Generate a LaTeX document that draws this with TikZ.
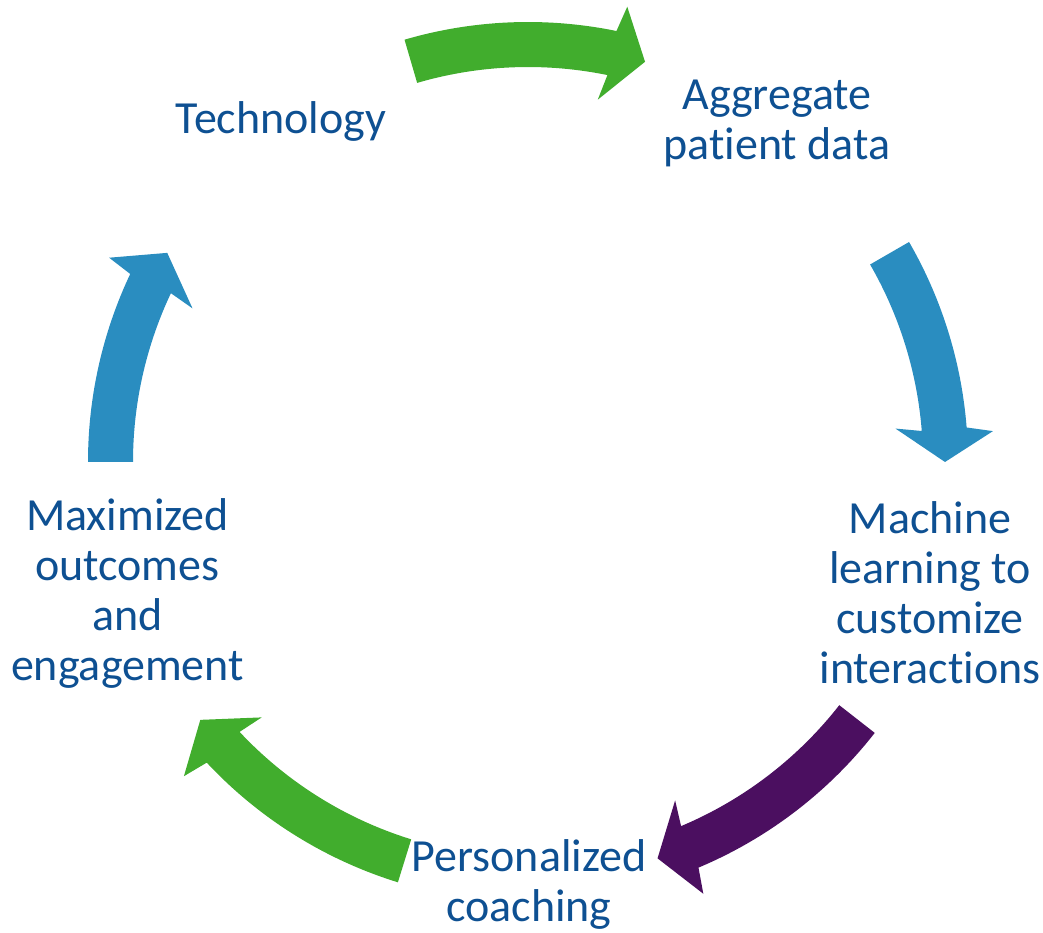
\documentclass[tikz,border=0pt]{standalone}
\usepackage{fontspec}
\setmainfont{Carlito}[Ligatures=NoCommon]
\definecolor{txtblue}{RGB}{14,80,146}
\definecolor{arrgreen}{RGB}{65,173,45}
\definecolor{arrblue}{RGB}{42,141,192}
\definecolor{arrpurple}{RGB}{75,15,96}
\newcommand{\blockarc}[4]{%
  \fill[#1] (#2:440) arc[start angle=#2, end angle=#3, radius=440]
    -- ({#3-0.7}:466) -- (#4:417) -- ({#3+0.7}:369)
    -- (#3:395) arc[start angle=#3, end angle=#2, radius=395] -- cycle;}
\begin{document}
\begin{tikzpicture}[x=1pt,y=1pt,
  lbl/.style={text=txtblue, align=center, inner sep=0pt,
    font=\fontsize{46}{50}\selectfont}]
\useasboundingbox (0,0) rectangle (1043,932);
\begin{scope}[shift={(528,470)}]
  \blockarc{arrgreen}{106.3}{78.4}{73.7}
  \blockarc{arrblue}{30}{4.5}{0}
  \blockarc{arrpurple}{-38}{-67.2}{-71.9}
  \blockarc{arrgreen}{-107.2}{-136.9}{-141.8}
  \blockarc{arrblue}{180}{154.7}{149.9}
\end{scope}
\node[lbl] (tech) at (281,811) {Technology};
\node[lbl] (agg) at (777,809) {Aggregate\\patient data};
\node[lbl] (ml) at (930,339) {Machine\\learning to\\customize\\interactions};
\node[lbl] (coach) at (529,48) {Personalized\\coaching};
\node[lbl] (max) at (127.5,339) {Maximized\\outcomes\\and\\engagement};
\end{tikzpicture}
\end{document}
